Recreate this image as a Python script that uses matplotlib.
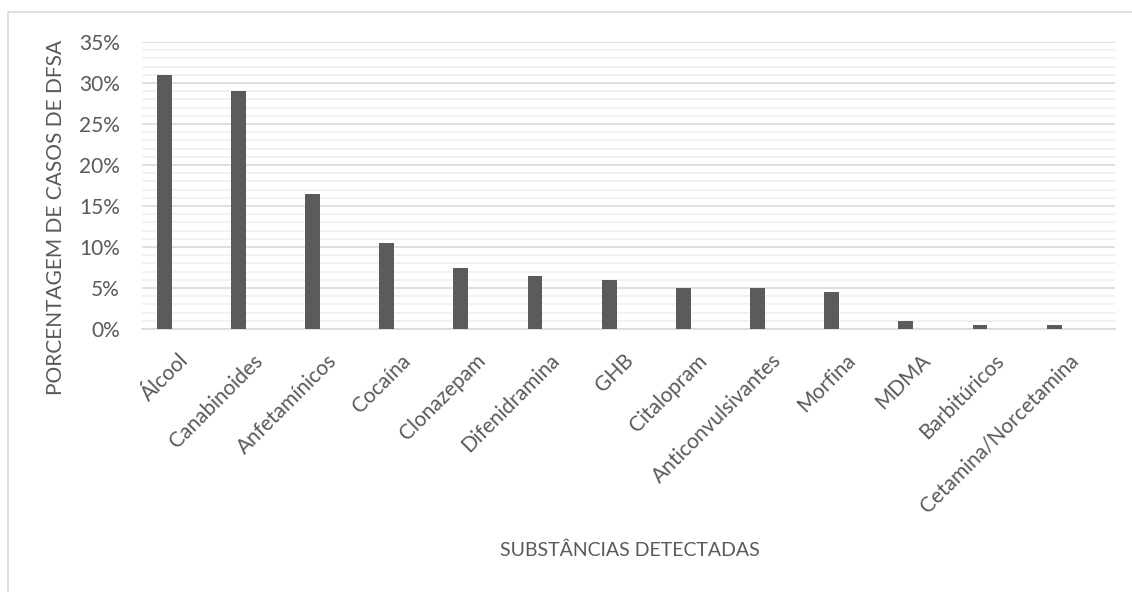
import matplotlib
matplotlib.use("Agg")
import matplotlib.pyplot as plt
from matplotlib.ticker import MultipleLocator, FuncFormatter
from matplotlib.patches import Rectangle
from matplotlib.transforms import ScaledTranslation

categories = ["Álcool", "Canabinoides", "Anfetamínicos", "Cocaína", "Clonazepam",
              "Difenidramina", "GHB", "Citalopram", "Anticonvulsivantes", "Morfina",
              "MDMA", "Barbitúricos", "Cetamina/Norcetamina"]
values = [31, 29, 16.5, 10.5, 7.5, 6.5, 6, 5, 5, 4.5, 1, 0.5, 0.5]

plt.rcParams['font.family'] = ['Lato', 'DejaVu Sans']
txt = '#595959'

fig = plt.figure(figsize=(11.32, 5.92), dpi=100)
fig.patches.append(Rectangle((8/1132, -0.1), 1.2, 1 - 12/592 + 0.1, transform=fig.transFigure,
                             fill=False, edgecolor='#d9d9d9', linewidth=1.2))
ax = fig.add_axes([142/1132, 1 - 329/592, (1115 - 142)/1132, (329 - 42)/592])

x = list(range(len(categories)))
ax.bar(x, values, width=0.2, color='#5b5b5b', zorder=3)
ax.set_xlim(-0.30, len(categories) - 1 + 0.82)
ax.set_ylim(0, 35)
ax.yaxis.set_major_locator(MultipleLocator(5))
ax.yaxis.set_minor_locator(MultipleLocator(1))
ax.yaxis.set_major_formatter(FuncFormatter(lambda v, p: f"{int(v)}%"))
ax.grid(axis='y', which='major', color='#d9d9d9', linewidth=1.2, zorder=0)
ax.grid(axis='y', which='minor', color='#f0f0f0', linewidth=1.2, zorder=0)
for s in ['top', 'right', 'left']:
    ax.spines[s].set_visible(False)
ax.spines['bottom'].set_color('#d9d9d9')
ax.spines['bottom'].set_linewidth(1.2)
ax.tick_params(axis='both', which='both', length=0, colors=txt, labelsize=15)
ax.tick_params(axis='y', pad=16)
ax.set_xticks(x)
ax.set_xticklabels(categories, rotation=45, ha='right', rotation_mode='anchor', va='center')
ax.tick_params(axis='x', pad=0)
off = ScaledTranslation(21/100, -28.5/100, fig.dpi_scale_trans)
for lab in ax.get_xticklabels():
    lab.set_transform(lab.get_transform() + off)
fig.text(56.5/1132, 1 - 217/592, "PORCENTAGEM DE CASOS DE DFSA", color=txt, fontsize=15,
         rotation=90, ha='center', va='center')
fig.text(630/1132, 1 - 550/592, "SUBSTÂNCIAS DETECTADAS", color=txt, fontsize=14,
         ha='center', va='center')

fig.savefig("out.png", dpi=100, facecolor='white')
